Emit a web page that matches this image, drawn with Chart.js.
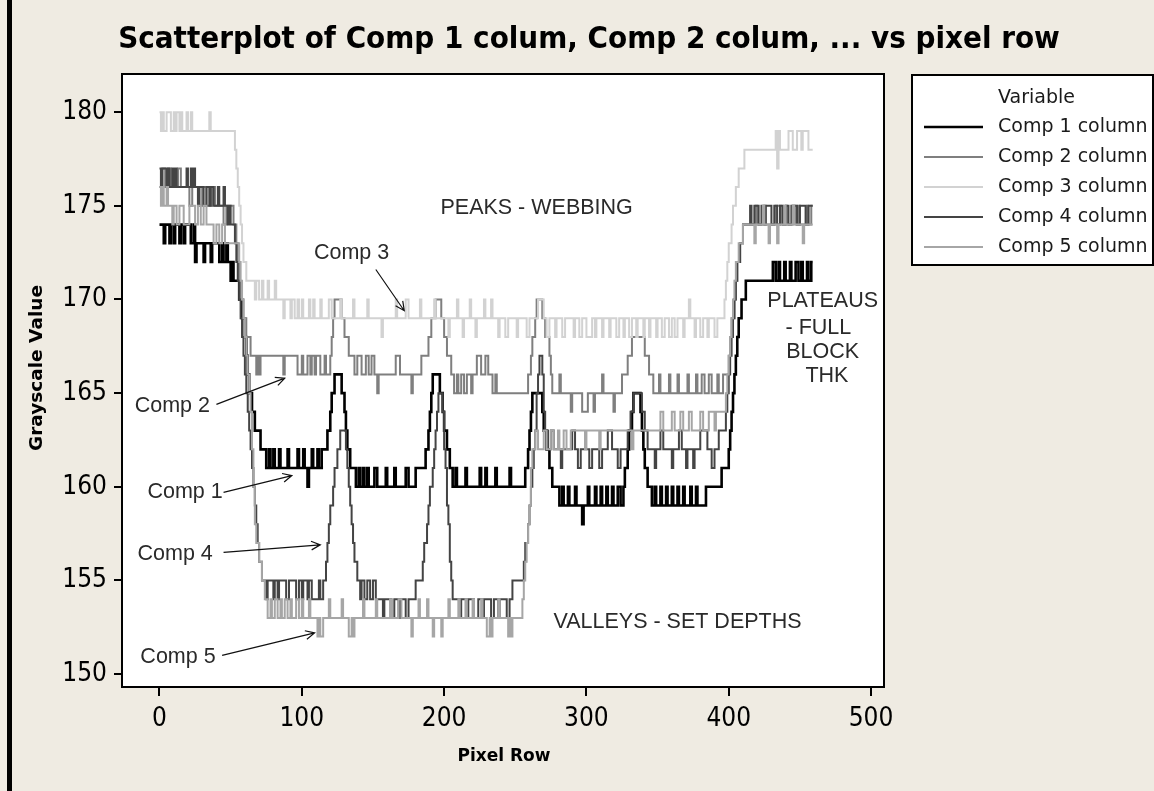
<!DOCTYPE html>
<html>
<head>
<meta charset="utf-8">
<title>Scatterplot of Comp 1 colum, Comp 2 colum, ... vs pixel row</title>
<script src="https://cdn.jsdelivr.net/npm/chart.js@4.4.1/dist/chart.umd.min.js"></script>
<style>
  html, body { margin: 0; padding: 0; background: #efebe2; }
  canvas { display: block; }
</style>
</head>
<body>
<canvas id="chart" width="1154" height="791"></canvas>
<script>
// breakpoints [pixel row, grayscale], value holds until the next point
const comp1 = [[0,174],[2,174],[3,173],[4,174],[6,174],[7,173],[8,174],[10,173],[11,174],[13,174],[14,173],[15,174],[17,173],[18,174],[21,174],[22,173],[24,174],[25,172],[26,173],[30,173],[31,172],[32,173],[36,172],[37,173],[41,173],[42,172],[44,173],[45,172],[47,173],[48,172],[50,171],[51,172],[52,171],[55,171],[56,170],[58,169],[60,168],[61,167],[62,166],[63,165],[65,164],[67,163],[71,162],[75,161],[77,162],[78,161],[80,162],[81,161],[84,162],[85,161],[90,162],[91,161],[97,162],[98,161],[101,162],[102,161],[104,160],[105,161],[107,162],[108,161],[111,162],[112,161],[114,162],[117,162],[118,163],[120,164],[121,165],[123,166],[127,166],[128,165],[130,164],[131,163],[132,162],[134,161],[138,160],[140,161],[141,160],[143,161],[144,160],[146,161],[147,160],[151,161],[153,160],[159,161],[160,160],[165,161],[166,160],[173,161],[175,160],[180,161],[186,161],[187,162],[189,163],[190,164],[191,165],[192,166],[196,166],[197,165],[199,164],[200,163],[202,162],[204,161],[206,160],[208,161],[209,160],[215,161],[216,160],[225,161],[226,160],[229,161],[230,160],[236,161],[237,160],[246,161],[247,160],[257,161],[259,162],[260,163],[261,164],[262,165],[268,165],[269,164],[270,163],[272,162],[274,161],[276,160],[281,159],[283,160],[284,159],[287,160],[288,159],[292,160],[293,159],[297,158],[298,159],[301,160],[302,159],[306,160],[307,159],[310,160],[311,159],[314,160],[315,159],[318,160],[319,159],[322,160],[324,159],[326,160],[327,161],[329,162],[330,163],[332,164],[333,165],[337,165],[338,164],[339,163],[340,162],[341,161],[343,160],[346,159],[348,160],[349,159],[352,160],[353,159],[356,160],[357,159],[360,160],[361,159],[364,160],[365,159],[368,160],[369,159],[373,160],[374,159],[377,160],[378,159],[384,160],[395,161],[400,162],[401,163],[402,164],[403,165],[404,166],[405,167],[406,168],[407,169],[409,170],[412,171],[431,172],[433,171],[435,172],[436,171],[439,172],[440,171],[443,172],[444,171],[447,172],[449,171],[451,172],[452,171],[455,172],[456,171],[458,172],[459,172]];

const comp2 = [[0,176],[2,177],[4,176],[6,177],[8,176],[13,177],[15,176],[21,175],[23,176],[28,175],[30,176],[33,175],[37,176],[39,175],[45,174],[47,175],[52,174],[54,173],[55,172],[56,171],[57,170],[59,169],[61,168],[64,167],[68,166],[69,167],[70,166],[71,167],[87,166],[88,167],[97,166],[100,167],[101,166],[104,167],[106,166],[107,167],[109,166],[110,167],[113,166],[116,167],[117,166],[120,167],[121,168],[122,169],[123,170],[127,170],[128,169],[130,168],[133,167],[137,166],[139,167],[142,166],[145,167],[147,166],[149,167],[151,166],[153,165],[154,166],[166,167],[169,166],[177,165],[178,166],[184,167],[189,168],[191,169],[194,170],[197,170],[198,169],[200,168],[202,167],[205,166],[207,165],[209,166],[210,165],[212,166],[214,165],[216,166],[219,165],[220,166],[223,167],[226,166],[229,167],[231,166],[234,165],[236,166],[237,165],[259,166],[261,167],[262,168],[264,169],[265,170],[268,170],[269,169],[271,168],[274,167],[275,166],[276,165],[281,166],[282,165],[289,164],[290,165],[297,164],[301,165],[305,164],[306,165],[311,166],[312,165],[319,164],[320,165],[325,166],[329,167],[332,168],[338,168],[341,167],[344,166],[347,165],[351,166],[352,165],[358,166],[359,165],[364,166],[365,165],[371,166],[372,165],[377,166],[378,165],[381,166],[383,165],[386,166],[388,165],[392,166],[393,165],[396,166],[400,167],[401,168],[402,169],[404,170],[405,171],[406,172],[408,173],[410,174],[419,175],[420,174],[425,175],[426,174],[433,175],[437,174],[440,175],[441,174],[445,175],[447,174],[449,175],[450,174],[455,175],[456,174],[458,175],[459,175]];

const comp3 = [[0,180],[1,179],[2,180],[3,179],[5,180],[8,179],[10,180],[11,179],[12,180],[14,179],[15,180],[16,179],[19,180],[20,179],[22,180],[23,179],[35,180],[36,179],[53,178],[54,177],[55,176],[56,175],[57,174],[58,173],[59,172],[61,171],[67,170],[68,171],[70,170],[72,171],[73,170],[76,171],[77,170],[81,171],[82,170],[87,169],[88,170],[92,169],[93,170],[95,169],[97,170],[98,169],[100,170],[101,169],[105,170],[106,169],[108,170],[109,169],[113,170],[114,169],[119,170],[121,169],[127,170],[128,169],[136,170],[137,169],[146,170],[147,169],[156,168],[157,169],[166,170],[167,169],[173,170],[175,169],[183,170],[184,169],[193,170],[194,169],[203,168],[204,169],[209,170],[210,169],[213,168],[214,169],[218,170],[219,169],[222,168],[223,169],[228,170],[229,169],[233,170],[234,169],[238,168],[239,169],[243,168],[245,169],[251,168],[252,169],[258,168],[260,169],[266,170],[268,170],[270,169],[272,168],[274,169],[278,168],[279,169],[283,168],[285,169],[291,168],[292,169],[295,168],[297,169],[300,168],[304,169],[306,168],[307,169],[311,168],[312,169],[316,168],[317,169],[321,168],[323,169],[326,168],[327,169],[330,168],[332,169],[335,168],[336,169],[340,168],[341,169],[344,168],[345,169],[349,168],[350,169],[353,168],[355,169],[358,168],[360,169],[362,168],[364,169],[368,168],[369,169],[372,170],[373,169],[376,168],[377,169],[380,168],[382,169],[385,168],[386,169],[390,168],[392,169],[397,170],[398,171],[399,172],[400,173],[402,174],[403,175],[405,176],[407,177],[411,178],[433,179],[434,177],[435,179],[436,178],[442,179],[445,178],[448,179],[451,178],[452,179],[456,178],[459,178]];

const comp4 = [[0,177],[1,176],[2,177],[5,176],[6,177],[7,176],[9,177],[10,176],[11,177],[12,176],[19,177],[20,176],[22,177],[23,176],[24,177],[25,176],[27,175],[28,176],[31,175],[33,176],[35,175],[36,176],[38,175],[41,176],[42,175],[45,176],[46,175],[48,174],[49,175],[50,174],[53,173],[54,172],[55,171],[56,170],[57,169],[58,168],[59,167],[60,166],[61,165],[62,164],[63,163],[64,162],[65,161],[66,160],[67,159],[68,158],[69,157],[70,156],[72,155],[75,154],[76,155],[80,154],[81,155],[83,154],[84,155],[89,154],[91,155],[96,154],[98,155],[100,154],[101,155],[104,154],[105,155],[107,154],[112,155],[113,154],[115,155],[117,156],[118,157],[119,158],[120,159],[122,160],[123,161],[125,162],[127,163],[131,162],[132,161],[133,160],[134,159],[135,158],[136,157],[137,156],[139,155],[141,154],[142,155],[144,154],[146,155],[148,154],[150,155],[152,154],[157,153],[158,154],[163,153],[165,154],[168,153],[169,154],[173,153],[175,154],[180,155],[185,156],[186,157],[188,158],[189,159],[190,160],[192,161],[193,162],[194,163],[195,164],[196,165],[199,164],[200,162],[201,161],[202,159],[203,158],[204,156],[205,155],[206,154],[211,153],[212,154],[216,153],[217,154],[221,153],[224,154],[227,153],[228,154],[233,153],[235,154],[238,153],[239,154],[244,153],[246,154],[248,155],[256,156],[257,157],[259,158],[260,159],[261,160],[262,161],[263,162],[264,163],[265,165],[266,166],[267,167],[269,166],[270,164],[271,163],[273,162],[275,163],[277,162],[282,161],[283,162],[290,163],[292,162],[294,161],[296,162],[302,161],[304,162],[309,161],[311,162],[315,163],[318,162],[322,161],[324,162],[329,163],[331,164],[333,165],[337,165],[339,164],[341,163],[343,162],[348,161],[349,162],[352,163],[354,162],[360,161],[361,162],[365,163],[367,162],[370,161],[371,162],[375,161],[376,162],[380,163],[385,162],[388,161],[390,162],[393,163],[398,164],[399,165],[400,166],[401,167],[402,168],[403,169],[404,170],[405,171],[406,172],[408,173],[410,174],[415,175],[416,174],[418,175],[421,174],[423,175],[425,174],[426,175],[430,174],[432,175],[434,174],[436,175],[438,174],[440,175],[442,174],[444,175],[448,174],[450,175],[454,174],[456,175],[459,175]];

const comp5 = [[0,176],[1,175],[2,176],[3,175],[5,176],[6,175],[9,174],[10,175],[12,174],[14,175],[17,174],[21,175],[25,174],[27,175],[29,174],[31,175],[33,174],[38,173],[40,174],[42,173],[44,174],[46,173],[56,172],[57,171],[58,170],[59,169],[60,168],[61,167],[62,166],[63,165],[64,164],[65,162],[66,160],[67,158],[68,157],[70,156],[72,155],[74,154],[76,153],[78,154],[79,153],[81,154],[83,153],[85,154],[86,153],[88,154],[90,153],[92,154],[93,153],[96,154],[98,153],[100,154],[101,153],[105,154],[106,153],[111,152],[112,153],[113,152],[115,153],[119,154],[120,153],[128,154],[129,153],[133,152],[135,153],[136,152],[137,153],[143,154],[144,153],[152,154],[153,153],[162,154],[163,153],[168,154],[170,153],[177,152],[178,153],[182,154],[183,153],[188,154],[189,153],[192,152],[193,153],[198,152],[199,153],[203,154],[204,153],[210,154],[211,153],[215,154],[216,153],[220,154],[221,153],[226,154],[227,153],[230,152],[232,153],[233,152],[234,153],[238,154],[239,153],[245,152],[246,153],[247,152],[248,153],[255,154],[256,155],[257,156],[258,157],[259,158],[260,159],[261,161],[262,162],[264,163],[266,162],[270,163],[272,162],[275,163],[277,162],[280,163],[281,162],[284,163],[286,162],[289,163],[299,162],[300,163],[309,162],[310,163],[332,162],[333,163],[352,164],[354,163],[360,164],[362,163],[366,164],[368,163],[372,164],[374,163],[380,164],[382,163],[386,164],[390,163],[391,164],[398,165],[399,166],[400,167],[401,168],[402,169],[403,170],[404,171],[405,172],[407,173],[410,174],[418,173],[419,174],[424,175],[425,174],[428,173],[429,174],[434,173],[435,174],[439,175],[440,174],[445,175],[446,174],[452,173],[453,174],[459,174]];

const seriesNames = ['Comp 1 column', 'Comp 2 column', 'Comp 3 column', 'Comp 4 column', 'Comp 5 column'];
const seriesColors = ['#000000', '#7f7f7f', '#d2d2d2', '#444444', '#a6a6a6'];
const xTicks = [0, 100, 200, 300, 400, 500];
const yTicks = [150, 155, 160, 165, 170, 175, 180];

// text notes placed in data units, arrows from -> to
const notes = [
  { text: 'PEAKS - WEBBING', at: [265, 174.9] },
  { text: 'Comp 3', at: [135, 172.5], from: [152, 171.6], to: [172, 169.4] },
  { text: 'Comp 2', at: [9, 164.3], from: [40, 164.4], to: [88, 165.8] },
  { text: 'Comp 1', at: [18, 159.7], from: [45, 159.7], to: [93, 160.6] },
  { text: 'Comp 4', at: [11, 156.4], from: [45, 156.5], to: [113, 156.9] },
  { text: 'Comp 5', at: [13, 150.9], from: [44, 151.0], to: [109, 152.2] },
  { text: 'VALLEYS - SET DEPTHS', at: [364, 152.8] },
  { text: 'PLATEAUS', at: [466, 169.9] },
  { text: '- FULL', at: [463, 168.5] },
  { text: 'BLOCK', at: [466, 167.2] },
  { text: 'THK', at: [469, 165.9] }
];

const series = [comp1, comp2, comp3, comp4, comp5];

function drawArrow(ctx, x1, y1, x2, y2) {
  const a = Math.atan2(y2 - y1, x2 - x1);
  ctx.beginPath();
  ctx.moveTo(x1, y1);
  ctx.lineTo(x2, y2);
  ctx.moveTo(x2 - 10 * Math.cos(a - 0.45), y2 - 10 * Math.sin(a - 0.45));
  ctx.lineTo(x2, y2);
  ctx.lineTo(x2 - 10 * Math.cos(a + 0.45), y2 - 10 * Math.sin(a + 0.45));
  ctx.stroke();
}

const decor = {
  id: 'decor',
  beforeDraw(chart) {
    const { ctx, chartArea: a } = chart;
    ctx.save();
    ctx.fillStyle = '#efebe2';
    ctx.fillRect(0, 0, chart.width, chart.height);
    ctx.fillStyle = '#000';
    ctx.fillRect(7, 0, 5, chart.height);
    ctx.fillStyle = '#fff';
    ctx.fillRect(a.left, a.top, a.right - a.left, a.bottom - a.top);
    ctx.restore();
  },
  afterDraw(chart) {
    const { ctx, chartArea: a, scales } = chart;
    const px = v => scales.x.getPixelForValue(v);
    const py = v => scales.y.getPixelForValue(v);
    ctx.save();

    ctx.strokeStyle = '#000';
    ctx.lineWidth = 2;
    ctx.strokeRect(a.left, a.top, a.right - a.left, a.bottom - a.top);

    // title and axis titles
    ctx.fillStyle = '#000';
    ctx.textAlign = 'center';
    ctx.textBaseline = 'alphabetic';
    ctx.font = 'bold 31px "DejaVu Sans Condensed", "DejaVu Sans", sans-serif';
    ctx.fillText('Scatterplot of Comp 1 colum, Comp 2 colum, ... vs pixel row', 589, 48);
    ctx.textBaseline = 'middle';
    ctx.font = 'bold 17px "DejaVu Sans", sans-serif';
    ctx.fillText('Pixel Row', 504, 757);
    ctx.save();
    ctx.translate(37, 368);
    ctx.rotate(-Math.PI / 2);
    ctx.font = 'bold 18.5px "DejaVu Sans", sans-serif';
    ctx.fillText('Grayscale Value', 0, 0);
    ctx.restore();

    // notes
    ctx.font = '21.5px "Liberation Sans", Arial, sans-serif';
    ctx.fillStyle = '#2a2a2a';
    ctx.strokeStyle = '#111';
    ctx.lineWidth = 1.2;
    notes.forEach(n => {
      ctx.fillText(n.text, px(n.at[0]), py(n.at[1]));
      if (n.from) drawArrow(ctx, px(n.from[0]), py(n.from[1]), px(n.to[0]), py(n.to[1]));
    });

    // legend
    const lx = 912, ly = 75, lw = 241, lh = 190;
    ctx.fillStyle = '#fff';
    ctx.fillRect(lx, ly, lw, lh);
    ctx.strokeStyle = '#000';
    ctx.lineWidth = 2;
    ctx.strokeRect(lx, ly, lw, lh);
    ctx.font = '19px "DejaVu Sans", sans-serif';
    ctx.textAlign = 'left';
    ctx.fillStyle = '#1a1a1a';
    ctx.fillText('Variable', 998, 98);
    chart.data.datasets.forEach((ds, i) => {
      const y = 127 + i * 30;
      ctx.strokeStyle = ds.borderColor;
      ctx.lineWidth = ds.borderWidth;
      ctx.beginPath();
      ctx.moveTo(924, y);
      ctx.lineTo(983, y);
      ctx.stroke();
      ctx.fillStyle = '#1a1a1a';
      ctx.fillText(ds.label, 998, y);
    });
    ctx.restore();
  }
};

const tickFont = { family: '"DejaVu Sans Condensed", "DejaVu Sans", sans-serif', size: 26 };

new Chart(document.getElementById('chart'), {
  type: 'line',
  data: {
    datasets: series.map((s, i) => ({
      label: seriesNames[i],
      data: s.map(p => ({ x: p[0], y: p[1] })),
      borderColor: seriesColors[i],
      borderWidth: i === 0 ? 2.6 : 2,
      stepped: true,
      pointRadius: 0,
      fill: false,
      order: 5 - i
    }))
  },
  options: {
    responsive: false,
    animation: false,
    devicePixelRatio: 1,
    layout: { padding: { left: 0, top: 74, right: 270, bottom: 0 } },
    plugins: {
      legend: { display: false },
      tooltip: { enabled: false },
      title: { display: false }
    },
    scales: {
      x: {
        type: 'linear',
        min: -26.35,
        max: 509.1,
        afterBuildTicks: s => { s.ticks = xTicks.map(v => ({ value: v })); },
        afterFit: s => { s.height = 104; },
        grid: { drawOnChartArea: false, color: '#000', lineWidth: 2, tickLength: 9 },
        border: { display: true, color: '#000', width: 2 },
        ticks: { color: '#000', font: tickFont, padding: 8, maxRotation: 0 }
      },
      y: {
        type: 'linear',
        min: 149.31,
        max: 182.04,
        afterBuildTicks: s => { s.ticks = yTicks.map(v => ({ value: v })); },
        afterFit: s => { s.width = 122; },
        grid: { drawOnChartArea: false, color: '#000', lineWidth: 2, tickLength: 8 },
        border: { display: true, color: '#000', width: 2 },
        ticks: { color: '#000', font: tickFont, padding: 7 }
      }
    }
  },
  plugins: [decor]
});
</script>
</body>
</html>
